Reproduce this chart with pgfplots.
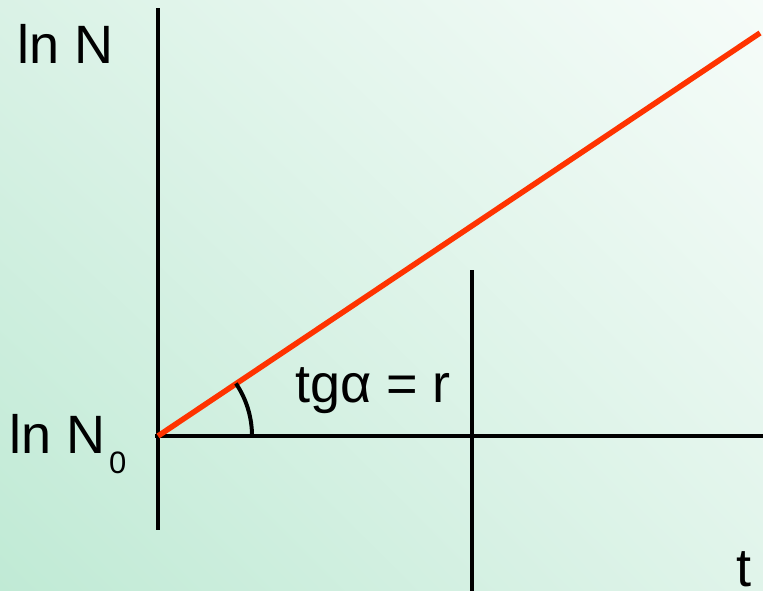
\documentclass[border=0pt]{standalone}
\usepackage{fontspec}
\setmainfont{Liberation Sans}
\usepackage{pgfplots}
\pgfplotsset{compat=1.18}
\usetikzlibrary{shadings}

\definecolor{bgLL}{HTML}{C0EAD5}
\definecolor{bgUL}{HTML}{DAF2E6}
\definecolor{bgLR}{HTML}{E0F4EA}
\definecolor{bgUR}{HTML}{F6FCF9}
\definecolor{growth}{HTML}{FF3300}

\begin{document}
\begin{tikzpicture}
\begin{axis}[
    scale only axis,
    width=763pt, height=591pt,
    xmin=0, xmax=763, ymin=0, ymax=591,
    axis line style={draw=none},
    ticks=none,
    axis background/.style={lower left=bgLL, upper left=bgUL,
        lower right=bgLR, upper right=bgUR},
]
% axes of the sketch
\addplot[black, line width=4.5pt] coordinates {(158,61) (158,583)};
\addplot[black, line width=4.5pt] coordinates {(155,155) (763,155)};
\addplot[black, line width=4.5pt] coordinates {(472,0) (472,321)};
% ln N = ln N0 + r t
\addplot[growth, line width=5.5pt] coordinates {(158,155) (760,558)};
% angle mark
\draw[black, line width=4pt] (axis cs:252,155) arc[start angle=0, end angle=34, radius=94pt];

\node[anchor=base west, inner sep=0pt, font=\fontsize{54}{60}\selectfont] at (axis cs:17,527) {ln N};
\node[anchor=base west, inner sep=0pt, font=\fontsize{54}{60}\selectfont] at (axis cs:9,137) {ln N\hspace{4pt}\raisebox{-20pt}{\fontsize{31}{31}\selectfont 0}};
\node[anchor=base west, inner sep=0pt, font=\fontsize{54}{60}\selectfont] at (axis cs:295,188) {tgα = r};
\node[anchor=base west, inner sep=0pt, font=\fontsize{54}{60}\selectfont] at (axis cs:736,4) {t};
\end{axis}
\end{tikzpicture}
\end{document}
